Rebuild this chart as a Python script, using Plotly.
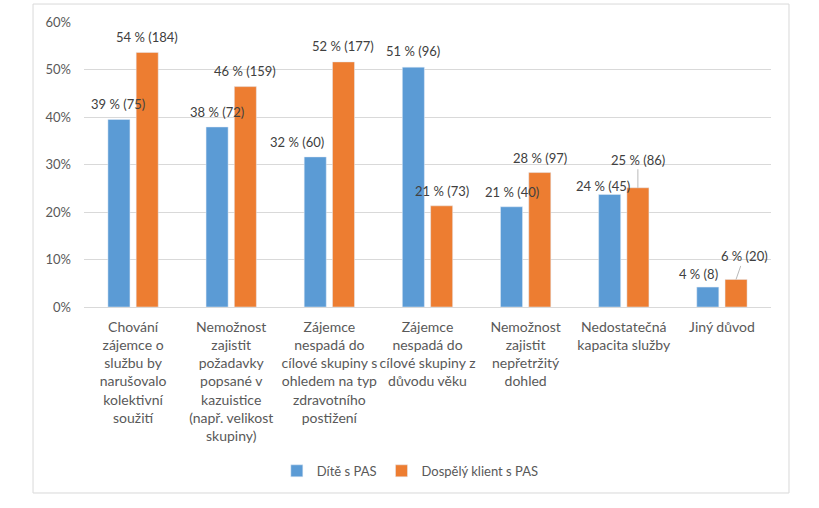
import plotly.graph_objects as go

categories = [
    "Chování<br>zájemce o<br>službu by<br>narušovalo<br>kolektivní<br>soužití",
    "Nemožnost<br>zajistit<br>požadavky<br>popsané v<br>kazuistice<br>(např. velikost<br>skupiny)",
    "Zájemce<br>nespadá do<br>cílové skupiny s<br>ohledem na typ<br>zdravotního<br>postižení",
    "Zájemce<br>nespadá do<br>cílové skupiny z<br>důvodu věku",
    "Nemožnost<br>zajistit<br>nepřetržitý<br>dohled",
    "Nedostatečná<br>kapacita služby",
    "Jiný důvod",
]
cat_ids = ["c1", "c2", "c3", "c4", "c5", "c6", "c7"]

child_pct = [39.5, 37.9, 31.6, 50.5, 21.1, 23.7, 4.2]
child_n = [75, 72, 60, 96, 40, 45, 8]
adult_pct = [53.6, 46.4, 51.6, 21.3, 28.3, 25.1, 5.8]
adult_n = [184, 159, 177, 73, 97, 86, 20]
child_labels = ["39 % (75)", "38 % (72)", "32 % (60)", "51 % (96)", "21 % (40)", "24 % (45)", "4 % (8)"]
adult_labels = ["54 % (184)", "46 % (159)", "52 % (177)", "21 % (73)", "28 % (97)", "25 % (86)", "6 % (20)"]

y_ticks = [0, 10, 20, 30, 40, 50, 60]
y_tick_labels = ["0%", "10%", "20%", "30%", "40%", "50%", "60%"]

# label offsets (pixels) relative to bar top centre
child_off = [(-1, -15), (0, -15), (-18, -15), (0, -16), (0, -15), (-7, -8), (-9, -13)]
adult_off = [(0, -15), (0, -16), (0, -16), (0, -15), (0, -15), (0, -28), (8, -23)]
adult_leader = [False, False, False, False, False, True, True]

BLUE = "#5B9BD5"
ORANGE = "#ED7D31"
FONT = "Lato"

fig = go.Figure()
fig.add_trace(go.Bar(name="Dítě s PAS", x=cat_ids, y=child_pct, marker_color=BLUE,
                     customdata=child_n, hoverinfo="skip"))
fig.add_trace(go.Bar(name="Dospělý klient s PAS", x=cat_ids, y=adult_pct, marker_color=ORANGE,
                     customdata=adult_n, hoverinfo="skip"))

half_slot = 14.1
label_font = dict(family=FONT, size=13, color="#404040")
anns = []
for i, c in enumerate(cat_ids):
    dx, dy = child_off[i]
    anns.append(dict(x=c, y=child_pct[i], xref="x", yref="y", text=child_labels[i],
                     showarrow=False, xshift=-half_slot + dx, yshift=-dy, font=label_font))
    dx, dy = adult_off[i]
    if adult_leader[i]:
        anns.append(dict(x=c, y=adult_pct[i], xref="x", yref="y", text=adult_labels[i],
                         showarrow=True, arrowhead=0, arrowwidth=0.8, arrowcolor="#a6a6a6",
                         ax=dx, ay=dy, standoff=0, xshift=half_slot, font=label_font))
    else:
        anns.append(dict(x=c, y=adult_pct[i], xref="x", yref="y", text=adult_labels[i],
                         showarrow=False, xshift=half_slot + dx, yshift=-dy, font=label_font))

fig.update_layout(
    width=819, height=508,
    margin=dict(l=84, r=48, t=22, b=201),
    paper_bgcolor="white", plot_bgcolor="white",
    barmode="group", bargap=0.424, bargroupgap=0.22,
    font=dict(family=FONT, size=13, color="#595959"),
    showlegend=True,
    legend=dict(orientation="h", x=0.475, xanchor="center", y=-0.575, yanchor="middle",
                font=dict(family=FONT, size=13, color="#595959"), itemwidth=30),
    annotations=anns,
    shapes=[dict(type="rect", xref="paper", yref="paper", x0=-0.0742, x1=1.0262,
                 y0=-0.6526, y1=1.063, line=dict(color="#d9d9d9", width=1), layer="below")],
)
fig.update_xaxes(tickmode="array", tickvals=cat_ids, ticktext=categories, showgrid=False,
                 showline=True, linecolor="#d9d9d9", linewidth=1, ticks="",
                 tickfont=dict(family=FONT, size=14, color="#595959"), ticklabelstandoff=7,
                 tickangle=0)
fig.update_yaxes(range=[0, 60], tickmode="array", tickvals=y_ticks, ticktext=y_tick_labels,
                 showgrid=True, gridcolor="#d9d9d9", gridwidth=1, zeroline=False, showline=False,
                 tickfont=dict(family=FONT, size=13, color="#595959"), ticklabelstandoff=12)

fig.write_html("out.html")
